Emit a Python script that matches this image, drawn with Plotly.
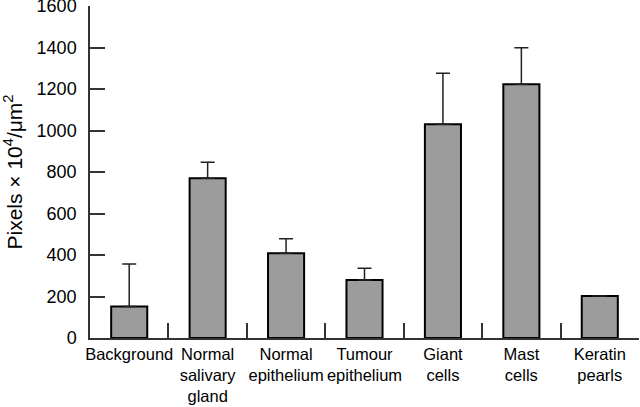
import plotly.graph_objects as go

categories = ["Background", "Normal<br>salivary<br>gland", "Normal<br>epithelium",
              "Tumour<br>epithelium", "Giant<br>cells", "Mast<br>cells", "Keratin<br>pearls"]
values = [152, 770, 408, 280, 1030, 1223, 202]
errors_up = [205, 77, 70, 56, 246, 176, 0]

y_tickvals = [0, 200, 400, 600, 800, 1000, 1200, 1400, 1600]

fig = go.Figure()
fig.add_trace(go.Bar(
    x=categories, y=values,
    marker=dict(color="#9c9c9c", line=dict(color="black", width=2)),
    width=0.46,
    error_y=dict(type="data", array=errors_up, arrayminus=[0]*len(values),
                 symmetric=False, color="#222222", thickness=1.5, width=7),
))

font = "Liberation Sans, Arial, Helvetica, sans-serif"
fig.update_layout(
    width=640, height=407,
    margin=dict(l=90, r=1, t=6, b=69),
    plot_bgcolor="white", paper_bgcolor="white",
    showlegend=False,
    font=dict(family=font, color="black", size=17),
    xaxis=dict(
        type="category", showline=True, linecolor="#333333", linewidth=1.5,
        ticks="inside", tickson="boundaries", ticklen=15, tickcolor="#333333", tickwidth=1.5,
        tickfont=dict(size=16.5, color="black"), showgrid=False, zeroline=False,
        range=[-0.5, 6.5], tickangle=0, automargin=False,
    ),
    yaxis=dict(
        range=[0, 1600], tickvals=y_tickvals, showline=True, linecolor="#333333", linewidth=1.5,
        ticks="inside", ticklen=15, tickcolor="#333333", tickwidth=1.5,
        tickfont=dict(size=18, color="black"), showgrid=False, zeroline=False,
        automargin=False, ticklabeloverflow="allow", ticklabelstandoff=8,
        title=dict(text="Pixels × 10<sup>4</sup>/μm<sup>2</sup>", font=dict(size=21, color="black"), standoff=9),
    ),
)

fig.write_html("out.html", config={"displayModeBar": False},
               post_script="document.body.style.margin='0';document.body.style.padding='0';")
